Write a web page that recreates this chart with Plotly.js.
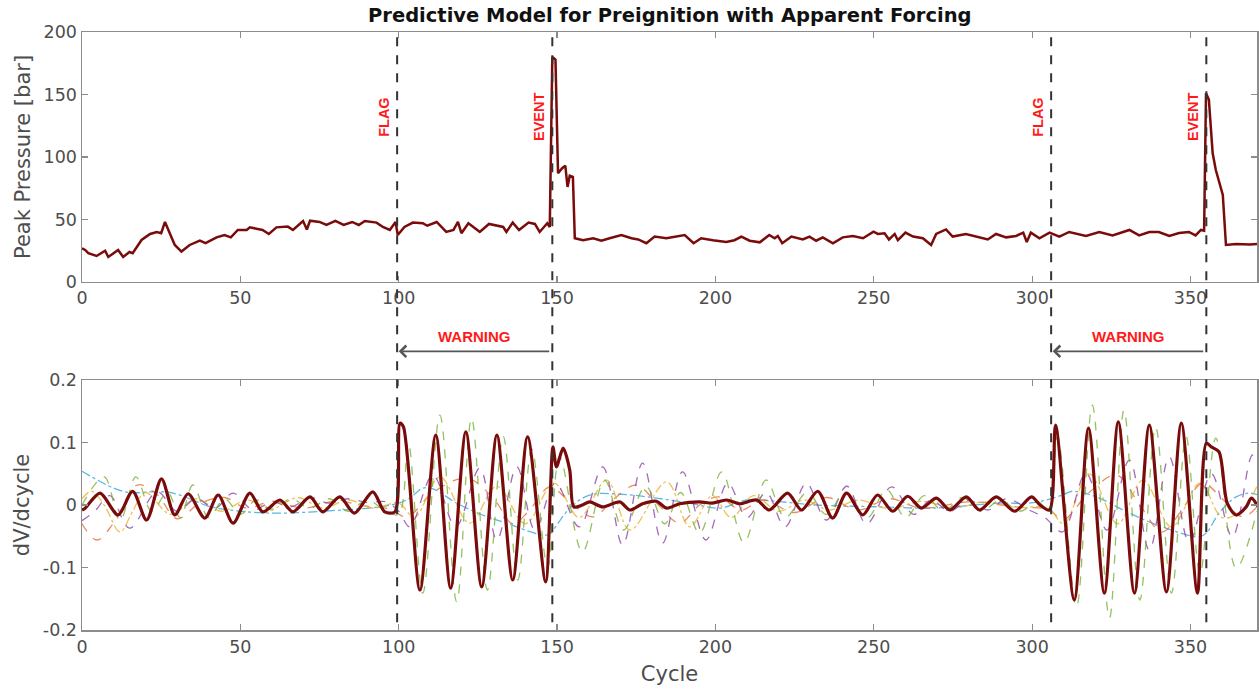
<!DOCTYPE html>
<html>
<head>
<meta charset="utf-8">
<script src="https://cdn.plot.ly/plotly-3.0.1.min.js"></script>
<style>html,body{margin:0;padding:0;background:#fff;}#chart{width:1259px;height:696px;}</style>
</head>
<body>
<div id="chart"></div>
<script>
// ---- Data (cycle, value) ----
const peakPressure = [[0,27],[1,25.6],[2,23],[4.6,20.8],[7.3,25],[8.3,20],[11.4,25.6],[13,20],[15,24],[16,23],[18.8,33.6],[21.5,38.4],[23.6,40],[25,39],[26.2,48],[27.2,41.6],[29.3,29.6],[31.4,24.3],[34,29.6],[37.2,33],[39,31],[42.5,35.7],[45,37.6],[47,35.7],[49.2,41.6],[52,41.6],[53,43.7],[57,41.6],[59,38.4],[61.4,43.7],[65,44.3],[66.6,41.6],[69.8,48.8],[71,42],[72,49],[75,48],[77.2,45.6],[80,48.8],[82.6,45.6],[85.3,48],[87.4,45.6],[89.3,48.8],[93,47.5],[95,44],[97.2,41.6],[99,48],[99.7,37.6],[101.8,44],[104.5,47.5],[107.6,47],[109,45],[112,48],[115,40],[117.3,41.6],[118.7,48],[119.8,39],[122,47],[124.6,42],[125.6,40],[128.5,46.4],[133,44],[134,40],[136,47.5],[138,41.6],[141,47.5],[143,46.4],[144.5,40],[146.9,47],[147.7,44],[148.5,180],[149.5,178],[150.3,87],[151.6,91],[152.6,93],[153.3,76],[154,85],[155,84],[155.6,35],[158.2,33.4],[161.4,35],[164,33],[166.6,35],[170.3,37.6],[173.5,35],[175.6,34],[178.2,31],[180.8,36.3],[184.5,35],[187.6,36.3],[190.3,37.6],[193.1,31],[195.5,35],[199.2,33.4],[203.4,32],[206,33.4],[208.2,36.3],[210.8,33],[214,31.7],[217,37.6],[218.7,35],[219.7,36.8],[221.1,31],[224,36.3],[227.6,34],[229.7,36.3],[231.8,33],[233.9,35.7],[237.1,31],[240.2,35.7],[243.4,36.8],[246.6,35],[249.9,40.3],[251.3,38.4],[253.4,39],[254.8,34],[256.6,38.4],[257.6,33.4],[260,39.5],[262.4,36.3],[265.5,35],[268.1,29.6],[269.7,38.4],[272.8,42],[274.9,36.3],[279.1,38.4],[282.3,36.3],[286,34],[288.6,38.4],[291.8,35.7],[294.9,36.8],[297.2,39.5],[298.3,32],[299.6,39.5],[302.3,35],[305.5,39.5],[308.6,36.3],[311.7,40],[317,36.8],[321.2,40],[325.4,37.3],[330.7,41.6],[333.8,37.3],[337,40],[340,40],[343.3,36.8],[346.4,39.2],[349.5,40],[351.6,37.3],[353.3,41.6],[354.3,41],[354.9,151],[355.8,146],[357,103],[358,89.6],[360.2,69.6],[361.2,29.6],[364.4,30.4],[368.6,30],[371,30.4]];

const dvMain = [[0,-0.008],[1,-0.005],[5.7,0.019],[11.4,-0.016],[16,0.022],[20.4,-0.024],[25.1,0.042],[29.3,-0.016],[33.5,0.018],[38.8,-0.021],[43,0.016],[47.7,-0.029],[53,0.019],[57.1,-0.011],[62.5,0.008],[66.6,-0.011],[72,0.013],[76,-0.011],[81.4,0.013],[86,-0.013],[91.8,0.021],[95.6,-0.011],[98.8,-0.011],[100.4,0.131],[101.5,0.125],[106.7,-0.136],[111.7,0.112],[116.4,-0.133],[121.2,0.117],[126.2,-0.131],[131,0.112],[136,-0.12],[140.7,0.109],[146.4,-0.123],[148.7,0.093],[149.8,0.061],[151.9,0.091],[154,0.056],[155.3,-0.003],[158,0.0],[160.3,0.005],[164.4,-0.003],[169.8,0.005],[173,-0.008],[177,0.002],[181.4,0.006],[184.6,-0.005],[188.7,0.002],[195,0.005],[199,0.003],[203.5,0.008],[207.6,0.002],[213,0.008],[217,-0.008],[222.8,0.019],[227.2,-0.008],[232.3,0.022],[237,-0.021],[241.4,0.019],[246.5,-0.016],[251.2,0.016],[256,-0.01],[260.7,0.014],[265,-0.005],[269.8,0.011],[274,-0.008],[279.2,0.013],[283.4,-0.008],[288.7,0.013],[294.5,-0.01],[299.8,0.013],[302.5,0.0],[305.5,-0.008],[307.4,0.128],[313.3,-0.152],[317.8,0.123],[322.8,-0.141],[327.2,0.133],[332.3,-0.141],[337,0.128],[342.4,-0.139],[347.1,0.131],[352.2,-0.141],[355,0.099],[356.6,0.093],[359,0.085],[361.6,0.003],[364.4,-0.016],[367.6,-0.003],[369.2,0.011],[371.4,-0.003]];

const dvBlue = [[0,0.054],[10,0.027],[15,0.02],[22,0.021],[28,0.02],[35,0.008],[40,-0.002],[50,-0.01],[62,-0.013],[79,-0.009],[94,-0.003],[100,0.003],[103.5,0.011],[107.6,0.027],[110.8,0.026],[118.3,0.003],[126.5,-0.016],[134,-0.029],[146.7,-0.048],[148.7,-0.04],[154,-0.005],[160.3,0.016],[170.7,0.017],[181.4,0.011],[191.9,0.003],[201.3,-0.005],[210,0.008],[221,0.005],[232,0.0],[253,-0.003],[268.5,-0.005],[289.7,0.003],[299,0.003],[304.5,0.008],[309.6,0.016],[312.7,0.022],[320.3,0.013],[330.7,-0.013],[341.1,-0.035],[352.8,-0.051],[355,-0.045],[359,-0.013],[364.4,0.013],[368.6,0.019],[371.4,0.016]];

const dvOrange = [[0,-0.03],[4.7,-0.056],[9.8,-0.03],[17.4,0.032],[23.7,0.017],[30,-0.022],[37,0.002],[45,0.012],[52,-0.005],[60,0.006],[70,-0.005],[80,0.006],[90,-0.002],[97,-0.006],[102.6,-0.019],[110.8,0.02],[121.5,0.043],[130,0.01],[136,-0.03],[141,-0.01],[147.7,0.029],[153,0.01],[161.3,-0.019],[168,0.01],[175,0.032],[182,0.0],[188.7,-0.029],[195,0.0],[201,0.013],[208,-0.008],[215,0.008],[225,-0.012],[235,0.012],[245,-0.008],[255,0.01],[265,-0.005],[280,0.005],[295,-0.003],[305.5,-0.008],[309.6,-0.024],[318,0.02],[326.6,0.048],[334,0.0],[341,-0.043],[347,-0.01],[353.8,0.035],[360,0.01],[366.4,-0.019],[371,-0.003]];

const dvYellow = [[0,0.01],[3,0.022],[7,0.0],[12,-0.043],[16,-0.01],[20,0.02],[28,-0.015],[36,0.01],[44,-0.01],[52,0.008],[60,-0.006],[68,0.012],[76,-0.005],[84,0.008],[92,-0.005],[100,0.003],[105,-0.02],[113,0.045],[122.4,-0.029],[131,0.03],[140,-0.03],[149,0.035],[157,-0.02],[165.7,0.04],[173,-0.04],[184.6,0.037],[191.9,-0.035],[199,0.015],[205,-0.02],[212,0.015],[220,-0.01],[228,0.008],[236,-0.008],[245,0.008],[255,-0.006],[265,0.006],[275,-0.005],[285,0.005],[295,-0.004],[305,-0.005],[310,-0.03],[318,0.05],[327,-0.03],[335,0.04],[344,-0.035],[353,0.035],[360,-0.02],[366,-0.01],[371,0.03]];

const dvPurple = [[0,-0.025],[4,-0.01],[8.8,0.015],[15,-0.037],[23.7,0.021],[30,-0.01],[36,0.01],[42,-0.005],[47.7,0.019],[54,-0.008],[60,0.005],[66,-0.003],[72,0.012],[78,0.003],[84,0.01],[90,0.004],[96,0.005],[100,-0.01],[103.5,-0.035],[110.8,0.048],[118,-0.035],[125.6,0.059],[131,-0.056],[137.3,0.061],[143,-0.04],[149.5,0.035],[157,-0.035],[164.4,0.061],[170.7,-0.064],[177,0.067],[183.3,-0.061],[189.6,0.053],[197,-0.056],[203.9,0.035],[210,-0.02],[216,0.02],[222,-0.035],[228.7,0.035],[235,-0.024],[241.5,0.03],[247.7,-0.03],[255.6,0.029],[262.6,-0.015],[268,0.008],[274,-0.01],[280,0.008],[286,-0.008],[292,0.01],[299,-0.008],[304,-0.02],[309.6,-0.043],[317,0.051],[323.6,-0.04],[330.7,0.072],[337,-0.072],[343.3,0.077],[349.6,-0.06],[356.6,0.05],[363.2,-0.051],[369.5,0.08],[371,0.07]];

const dvGreen = [[0,0.0],[7,0.045],[12,-0.025],[17,0.045],[22,-0.01],[27,0.02],[31,-0.02],[35,0.032],[40,-0.02],[45,0.01],[50,-0.015],[55,0.008],[60,-0.008],[66,0.01],[72,-0.005],[78,0.01],[84,-0.01],[90,0.008],[96,-0.01],[100,-0.015],[103,0.1],[107.6,-0.141],[113,0.144],[118.3,-0.155],[123,0.139],[128,-0.136],[133,0.11],[137.6,-0.12],[142,0.09],[147,-0.1],[150.8,0.077],[158,-0.075],[165,0.04],[171,-0.04],[178,0.03],[184,-0.03],[189,0.02],[195,-0.045],[202,0.053],[209,-0.06],[216,0.04],[222,-0.02],[229,0.02],[235,-0.015],[241,0.02],[248,-0.02],[254,0.025],[260,-0.02],[266,0.015],[272,-0.01],[278,0.012],[284,-0.01],[290,0.008],[296,-0.01],[302,0.005],[305,-0.01],[308,0.11],[314,-0.163],[319,0.16],[324.4,-0.181],[329,0.152],[334,-0.152],[339,0.125],[344,-0.141],[348.6,0.11],[353,-0.11],[358,0.107],[364.4,-0.101],[371,-0.01]];

const markerCycles = [99.5, 148.5, 306, 355];
const markerLabels = ['FLAG', 'EVENT', 'FLAG', 'EVENT'];
const warningSpans = [[148, 100], [354.5, 306.5]];
const xTicks = [0, 50, 100, 150, 200, 250, 300, 350];
const pTicks = [0, 50, 100, 150, 200];
const dvTicks = [-0.2, -0.1, 0, 0.1, 0.2];
const dvTickText = ['-0.2', '-0.1', '0', '0.1', '0.2'];

// ---- Build ----
const xs = a => a.map(p => p[0]);
const ys = a => a.map(p => p[1]);

function comp(arr, color, dash) {
  return {x: xs(arr), y: ys(arr), xaxis: 'x2', yaxis: 'y2', type: 'scatter', mode: 'lines',
    line: {color: color, width: 1.3, dash: dash, shape: 'spline', smoothing: 1},
    opacity: 0.8, hoverinfo: 'skip'};
}

const traces = [
  {x: xs(peakPressure), y: ys(peakPressure), xaxis: 'x', yaxis: 'y', type: 'scatter', mode: 'lines',
   line: {color: '#7a0b0b', width: 2.5}},
  comp(dvBlue, '#2fa6dd', 'dashdot'),
  comp(dvOrange, '#e0703a', 'dash'),
  comp(dvYellow, '#eab32a', 'dashdot'),
  comp(dvPurple, '#8e44a6', 'dash'),
  comp(dvGreen, '#79b23a', 'dash'),
  {x: xs(dvMain), y: ys(dvMain), xaxis: 'x2', yaxis: 'y2', type: 'scatter', mode: 'lines',
   line: {color: '#7a0b0b', width: 3.2, shape: 'spline', smoothing: 0.8}}
];

const tickFont = {family: 'DejaVu Sans', size: 17.5, color: '#4d4d4d'};
const titleFont = {family: 'DejaVu Sans', size: 21, color: '#4d4d4d'};
const axBase = {showline: true, linecolor: '#8c8c8c', linewidth: 1.5, mirror: 'ticks', ticks: 'inside',
  ticklen: 6, tickwidth: 1.2, tickcolor: '#8c8c8c', showgrid: false, zeroline: false, tickfont: tickFont};

const shapes = markerCycles.map(c => ({type: 'line', xref: 'x', yref: 'paper', x0: c, x1: c, y0: 0.013, y1: 0.992,
  line: {color: '#333333', width: 2, dash: 'dash'}}));

const annotations = [];
markerCycles.forEach((c, i) => {
  annotations.push({xref: 'x', yref: 'y', x: c - 4.2, y: 132, text: markerLabels[i], showarrow: false,
    textangle: -90, font: {family: 'Liberation Sans', size: 14.5, color: '#ff1a1a', weight: 'bold'}});
});
warningSpans.forEach(s => {
  annotations.push({xref: 'x', yref: 'paper', x: s[1], y: 0.466, ax: s[0], axref: 'x', ay: 0, ayref: 'pixel',
    text: '', showarrow: true, arrowhead: 4, arrowsize: 1.4, arrowwidth: 1.6, arrowcolor: '#555555'});
  annotations.push({xref: 'x', yref: 'paper', x: (s[0] + s[1]) / 2, y: 0.49, text: 'WARNING', showarrow: false,
    font: {family: 'Liberation Sans', size: 15, color: '#ff1a1a', weight: 'bold'}});
});

const layout = {
  width: 1259, height: 696,
  margin: {l: 82, r: 2, t: 32, b: 66},
  paper_bgcolor: '#ffffff', plot_bgcolor: '#ffffff',
  showlegend: false,
  title: {text: 'Predictive Model for Preignition with Apparent Forcing', x: 0.532, xanchor: 'center',
    y: 0.978, yanchor: 'middle', font: {family: 'DejaVu Sans', size: 19.5, color: '#111111', weight: 'bold'}},
  xaxis: Object.assign({}, axBase, {domain: [0, 1], anchor: 'y', range: [0, 371], tickvals: xTicks}),
  yaxis: Object.assign({}, axBase, {domain: [0.582, 1], anchor: 'x', range: [0, 200], tickvals: pTicks,
    title: {text: 'Peak Pressure [bar]', font: titleFont, standoff: 7}}),
  xaxis2: Object.assign({}, axBase, {domain: [0, 1], anchor: 'y2', range: [0, 371], tickvals: xTicks,
    title: {text: 'Cycle', font: titleFont, standoff: 11}}),
  yaxis2: Object.assign({}, axBase, {domain: [0, 0.418], anchor: 'x2', range: [-0.2, 0.2], tickvals: dvTicks,
    ticktext: dvTickText, title: {text: 'dV/dcycle', font: titleFont, standoff: 7}}),
  shapes: shapes,
  annotations: annotations
};

Plotly.newPlot('chart', traces, layout, {displayModeBar: false, staticPlot: true});
</script>
</body>
</html>
